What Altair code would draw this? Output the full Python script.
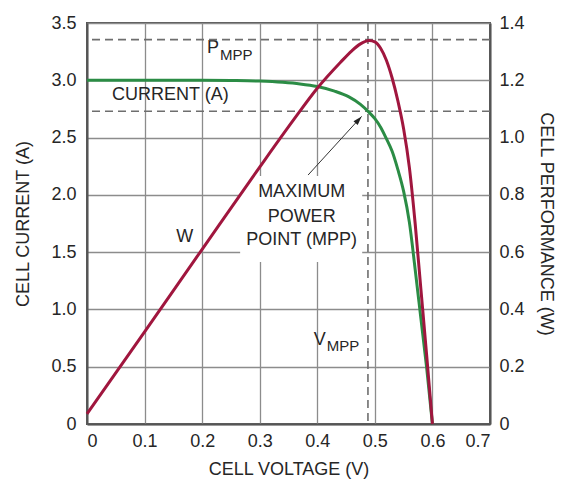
import altair as alt
import pandas as pd

# ---- data ----
volt_i = [0, 0.1, 0.2, 0.25, 0.3, 0.34, 0.37, 0.40, 0.43, 0.455, 0.475, 0.49, 0.50,
          0.51, 0.52, 0.53, 0.54, 0.55, 0.56, 0.57, 0.58, 0.59, 0.6]
current = [3.0, 3.0, 3.0, 2.998, 2.993, 2.982, 2.968, 2.945, 2.905, 2.855, 2.79, 2.72, 2.665,
           2.59, 2.49, 2.38, 2.22, 2.03, 1.76, 1.35, 0.92, 0.49, 0.0]

volt_p = [0, 0.1, 0.2, 0.3, 0.36, 0.40, 0.44, 0.46, 0.475, 0.49, 0.50, 0.51, 0.52, 0.53,
          0.54, 0.55, 0.56, 0.57, 0.58, 0.59, 0.6]
power = [0.035, 0.322, 0.61, 0.897, 1.065, 1.172, 1.262, 1.303, 1.327, 1.339, 1.334, 1.312,
         1.270, 1.208, 1.128, 1.030, 0.895, 0.70, 0.47, 0.24, 0.0]

v_mpp = 0.488
i_mpp = 2.73
p_mpp = 1.342

x_ticks = [0, 0.1, 0.2, 0.3, 0.4, 0.5, 0.6, 0.7]
yl_ticks = [0, 0.5, 1.0, 1.5, 2.0, 2.5, 3.0, 3.5]
yr_ticks = [0, 0.2, 0.4, 0.6, 0.8, 1.0, 1.2, 1.4]

# annotation texts (position in volts / amps)
ann_text = ["CURRENT (A)", "W", "MAXIMUM", "POWER", "POINT (MPP)"]
ann_v = [0.0434, 0.170, 0.3728, 0.3728, 0.3728]
ann_i = [2.872, 1.63, 2.028, 1.809, 1.606]
ann_align = ["left", "center", "center", "center", "center"]

main_letter = ["P", "V"]
main_v = [0.2084, 0.394]
main_i = [3.285, 0.735]
sub_text = ["MPP", "MPP"]
sub_v = [0.2310, 0.4166]
sub_i = [3.222, 0.681]

box_v = [0.266, 0.478]
box_i = [1.414, 2.165]

arrow_from = [0.384, 2.173]
arrow_tip = [0.477, 2.685]

FONT = "Liberation Sans"
TXT = "#262626"
RED = "#a0163e"
GREEN = "#2b8c45"
DASH = "#6e6e6e"
lblexpr = "datum.value === 0 ? '0' : format(datum.value, '.1f')"

xscale = alt.Scale(domain=[0, 0.7], nice=False, zero=False)
ylscale = alt.Scale(domain=[0, 3.5], nice=False, zero=False)
yrscale = alt.Scale(domain=[0, 1.4], nice=False, zero=False)

xaxis = alt.Axis(values=x_ticks, labelExpr=lblexpr, title="CELL VOLTAGE (V)", grid=True,
                 ticks=False, labelPadding=8, titlePadding=10)
ylaxis = alt.Axis(values=yl_ticks, labelExpr=lblexpr, title="CELL CURRENT (A)", grid=True,
                  ticks=False, labelPadding=11, titlePadding=18, orient="left")
yraxis = alt.Axis(values=yr_ticks, labelExpr=lblexpr, title="CELL PERFORMANCE (W)", grid=False,
                  ticks=False, labelPadding=9, titlePadding=12, orient="right", titleAngle=90)


def X(field="v"):
    return alt.X(f"{field}:Q", scale=xscale, axis=xaxis)


def YL(field="i"):
    return alt.Y(f"{field}:Q", scale=ylscale, axis=ylaxis)


curve_df = pd.DataFrame({"v": volt_i, "i": current})
power_df = pd.DataFrame({"v": volt_p, "p": power})
ann_df = pd.DataFrame({"v": ann_v, "i": ann_i, "t": ann_text, "a": ann_align})
main_df = pd.DataFrame({"v": main_v, "i": main_i, "t": main_letter})
sub_df = pd.DataFrame({"v": sub_v, "i": sub_i, "t": sub_text})
box_df = pd.DataFrame({"v": [box_v[0]], "v2": [box_v[1]], "i": [box_i[0]], "i2": [box_i[1]]})
vline_df = pd.DataFrame({"v": [v_mpp]})
hline_df = pd.DataFrame({"i": [i_mpp]})
pline_df = pd.DataFrame({"p": [p_mpp]})
arrow_df = pd.DataFrame({"v": [arrow_from[0]], "i": [arrow_from[1]],
                         "v2": [arrow_tip[0]], "i2": [arrow_tip[1]]})
tip_df = pd.DataFrame({"v": [arrow_tip[0]], "i": [arrow_tip[1]]})

box = alt.Chart(box_df).mark_rect(color="white").encode(
    x=X(), x2="v2:Q", y=YL(), y2="i2:Q")

vline = alt.Chart(vline_df).mark_rule(color=DASH, strokeDash=[8, 5], strokeWidth=1.6).encode(x=X())
hline = alt.Chart(hline_df).mark_rule(color=DASH, strokeDash=[8, 5], strokeWidth=1.6).encode(y=YL())

green = alt.Chart(curve_df).mark_line(color=GREEN, strokeWidth=3, interpolate="monotone").encode(
    x=X(), y=YL())

texts_left = alt.Chart(ann_df[ann_df.a == "left"]).mark_text(
    font=FONT, fontSize=18, color=TXT, align="left", baseline="middle").encode(
    x=X(), y=YL(), text="t:N")
texts_center = alt.Chart(ann_df[ann_df.a == "center"]).mark_text(
    font=FONT, fontSize=18, color=TXT, align="center", baseline="middle").encode(
    x=X(), y=YL(), text="t:N")
mains = alt.Chart(main_df).mark_text(
    font=FONT, fontSize=18, color=TXT, align="left", baseline="middle").encode(
    x=X(), y=YL(), text="t:N")
subs = alt.Chart(sub_df).mark_text(
    font=FONT, fontSize=15, color=TXT, align="left", baseline="middle").encode(
    x=X(), y=YL(), text="t:N")

arrow_line = alt.Chart(arrow_df).mark_rule(color="#333333", strokeWidth=1).encode(
    x=X(), x2="v2:Q", y=YL(), y2="i2:Q")
arrow_head = alt.Chart(tip_df).mark_point(
    shape="M0,0L0.5,1.6L-0.5,1.6Z", filled=True, color="#222222", opacity=1,
    size=127, angle=42, strokeWidth=0).encode(x=X(), y=YL())

left = alt.layer(box, vline, hline, green, texts_left, texts_center, mains, subs,
                 arrow_line, arrow_head)

pline = alt.Chart(pline_df).mark_rule(color=DASH, strokeDash=[8, 5], strokeWidth=1.6).encode(
    y=alt.Y("p:Q", scale=yrscale, axis=yraxis))
red = alt.Chart(power_df).mark_line(color=RED, strokeWidth=3, interpolate="monotone").encode(
    x=X(), y=alt.Y("p:Q", scale=yrscale, axis=yraxis))
right = alt.layer(pline, red)

chart = alt.layer(left, right).resolve_scale(y="independent").properties(
    width=403, height=401,
    autosize=alt.AutoSizeParams(type="none"),
    padding={"left": 79, "top": 15, "right": 68, "bottom": 56},
    background="white",
).configure_view(stroke="#555555", strokeWidth=2).configure_axis(
    domainColor="#555555", domainWidth=2, gridColor="#8c8c8c", gridWidth=1.3,
    labelFont=FONT, labelFontSize=18, labelColor=TXT,
    titleFont=FONT, titleFontSize=18, titleFontWeight="normal", titleColor=TXT,
)

chart.save("out.html", embed_options={"renderer": "svg", "actions": False})
